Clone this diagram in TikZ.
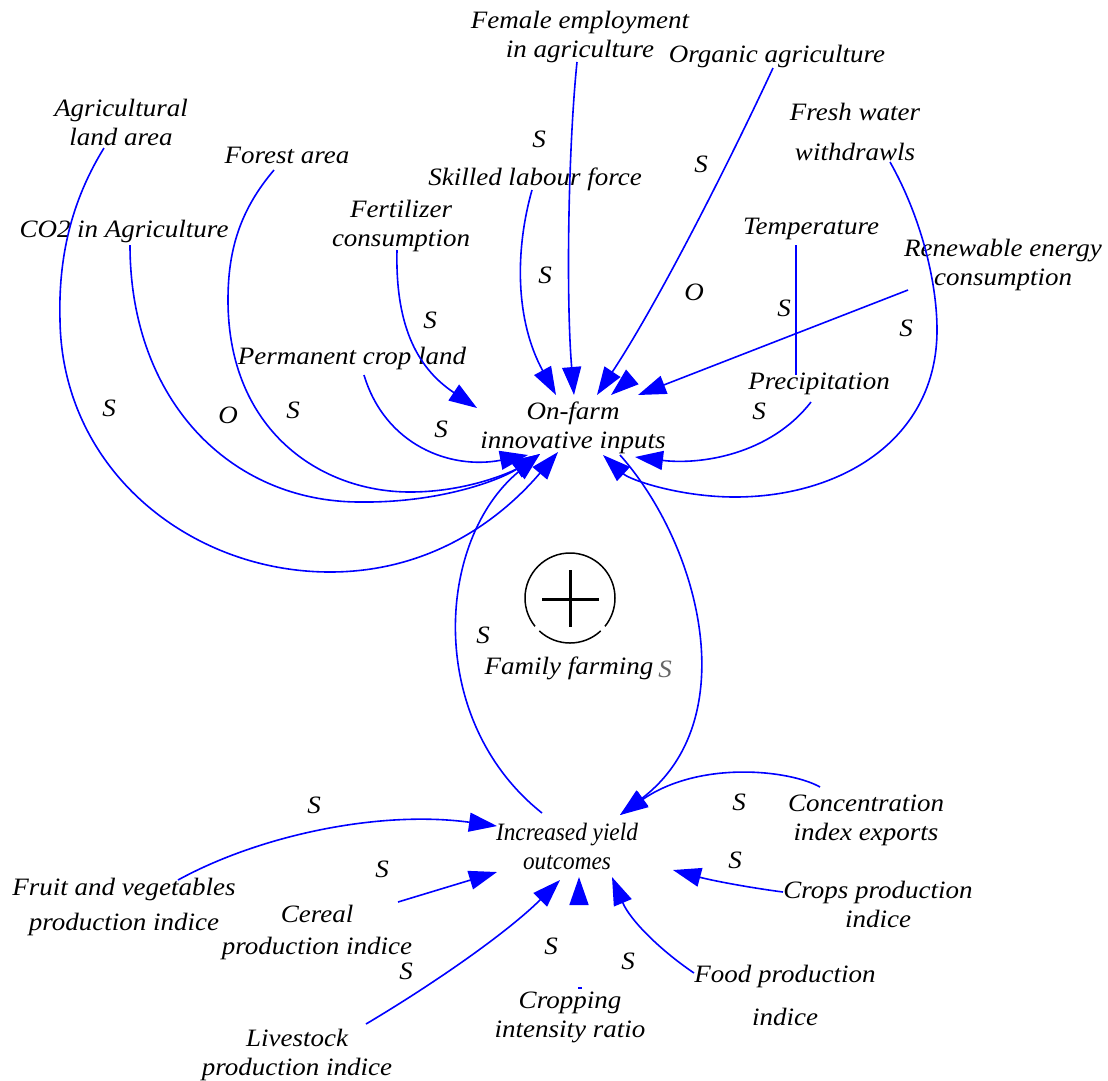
\documentclass[tikz,border=0pt]{standalone}
\usepackage{fontspec}
\setmainfont{Liberation Serif}[FakeStretch=1.08]
\newfontfamily\narrowserif{Liberation Serif}[FakeStretch=0.93]
\usetikzlibrary{arrows.meta}
\begin{document}
\begin{tikzpicture}[x=1pt,y=-1pt,
  lab/.style={font=\fontsize{25}{29}\selectfont\itshape, align=center, inner sep=0pt, text=black},
  sgn/.style={font=\fontsize{25}{29}\selectfont\itshape, inner sep=0pt, text=black},
  link/.style={draw=blue, line width=1.6pt, -{Triangle[length=28pt,width=19pt]}},
  plainlink/.style={draw=blue, line width=1.6pt},
]
\useasboundingbox (0,0) rectangle (1108,1080);

% ---------- variable nodes ----------
\node[lab] (fem) at (580,37) {Female employment\\in agriculture};
\node[lab] (org) at (777,56) {Organic agriculture};
\node[lab] (agri) at (121,122) {Agricultural\\land area};
\node[lab] (forest) at (287,155) {Forest area};
\node[lab] (fresh) at (855,132) {Fresh water\\[11pt]withdrawls};
\node[lab] (skill) at (535,179) {Skilled labour force};
\node[lab] (co2) at (124,231) {CO2 in Agriculture};
\node[lab] (fert) at (401,226) {Fertilizer\\consumption};
\node[lab] (temp) at (811,229) {Temperature};
\node[lab] (renew) at (1003,265) {Renewable energy\\consumption};
\node[lab] (perm) at (352,358) {Permanent crop land};
\node[lab] (precip) at (819,384) {Precipitation};
\node[lab] (onfarm) at (573,428) {On-farm\\innovative inputs};
\node[lab] (fam) at (569,668) {Family farming};
\node[lab, font=\narrowserif\fontsize{25}{29}\selectfont\itshape] (incr) at (567,846) {Increased yield\\outcomes};
\node[lab] (conc) at (866,820) {Concentration\\index exports};
\node[lab] (fruit) at (124,907) {Fruit and vegetables\\[6pt]production indice};
\node[lab] (cereal) at (317,932) {Cereal\\[3pt]production indice};
\node[lab] (crops) at (878,904) {Crops production\\indice};
\node[lab] (food) at (785,995) {Food production\\[14pt]indice};
\node[lab] (cint) at (570,1017) {Cropping\\intensity ratio};
\node[lab] (live) at (297,1055) {Livestock\\production indice};

% ---------- polarity labels ----------
\node[sgn] (p1) at (539,139) {S};
\node[sgn] (p2) at (701,164) {S};
\node[sgn] (p3) at (545,275) {S};
\node[sgn] (p4) at (694,292) {O};
\node[sgn] (p5) at (784,308) {S};
\node[sgn] (p6) at (430,320) {S};
\node[sgn] (p7) at (906,328) {S};
\node[sgn] (p8) at (109,408) {S};
\node[sgn] (p9) at (228,415) {O};
\node[sgn] (p10) at (293,410) {S};
\node[sgn] (p11) at (441,429) {S};
\node[sgn] (p12) at (759,411) {S};
\node[sgn] (p13) at (483,635) {S};
\node[sgn, text=black!60] (p14) at (665,669) {S};
\node[sgn] (p15) at (314,805) {S};
\node[sgn] (p16) at (739,802) {S};
\node[sgn] (p17) at (382,869) {S};
\node[sgn] (p18) at (735,860) {S};
\node[sgn] (p19) at (406,971) {S};
\node[sgn] (p20) at (551,946) {S};
\node[sgn] (p21) at (628,961) {S};

% ---------- loop symbol ----------
\node[circle, minimum size=90pt, inner sep=0pt] (loopsym) at (570,598) {};
\draw[line width=1.5pt] ([shift={(141:45)}]loopsym.center) arc[start angle=141, end angle=399, radius=45];
\draw[line width=1.5pt] ([shift={(47:45)}]loopsym.center) arc[start angle=47, end angle=133, radius=45];
\draw[line width=3pt] ([shift={(0,-28)}]loopsym.center) -- ([shift={(0,29)}]loopsym.center);
\draw[line width=3pt] ([shift={(-28,1)}]loopsym.center) -- ([shift={(29,1)}]loopsym.center);

% ---------- connector ends ----------
\coordinate (agri-o) at ([shift={(-17,26)}]agri.center);
\coordinate (co2-o) at ([shift={(6,14)}]co2.center);
\coordinate (forest-o) at ([shift={(-13,15)}]forest.center);
\coordinate (fert-o) at ([shift={(-4,24)}]fert.center);
\coordinate (perm-o) at ([shift={(12,17)}]perm.center);
\coordinate (skill-o) at ([shift={(-3,11)}]skill.center);
\coordinate (fem-o) at ([shift={(-3,25)}]fem.center);
\coordinate (org-o) at ([shift={(-4,12)}]org.center);
\coordinate (fresh-o) at ([shift={(35,30)}]fresh.center);
\coordinate (temp-o) at ([shift={(-15,16)}]temp.center);
\coordinate (precip-i) at ([shift={(-23,-9)}]precip.center);
\coordinate (precip-o) at ([shift={(-8,18)}]precip.center);
\coordinate (renew-o) at ([shift={(-95,25)}]renew.center);

\coordinate (on-fert) at ([shift={(-96,-20)}]onfarm.center);
\coordinate (on-skill) at ([shift={(-17,-33)}]onfarm.center);
\coordinate (on-fem) at ([shift={(1,-33)}]onfarm.center);
\coordinate (on-org) at ([shift={(24,-33)}]onfarm.center);
\coordinate (on-temp) at ([shift={(38,-33)}]onfarm.center);
\coordinate (on-temp-b) at ([shift={(58,-50)}]onfarm.center);
\coordinate (on-ren) at ([shift={(65,-33)}]onfarm.center);
\coordinate (on-perm) at ([shift={(-45,27)}]onfarm.center);
\coordinate (on-left) at ([shift={(-33,26)}]onfarm.center);
\coordinate (on-agri) at ([shift={(-15,24)}]onfarm.center);
\coordinate (on-fresh) at ([shift={(30,27)}]onfarm.center);
\coordinate (on-prec) at ([shift={(62,29)}]onfarm.center);
\coordinate (on-out) at ([shift={(47,27)}]onfarm.center);

\coordinate (in-out) at ([shift={(-25,-33)}]incr.center);
\coordinate (in-loop) at ([shift={(53,-31)}]incr.center);
\coordinate (in-fruit) at ([shift={(-70,-20)}]incr.center);
\coordinate (in-cer) at ([shift={(-70,26)}]incr.center);
\coordinate (in-live) at ([shift={(-7,34)}]incr.center);
\coordinate (in-cint) at ([shift={(12,31)}]incr.center);
\coordinate (in-food) at ([shift={(45,31)}]incr.center);
\coordinate (in-crops) at ([shift={(106,24)}]incr.center);

\coordinate (conc-o) at ([shift={(-46,-33)}]conc.center);
\coordinate (fruit-o) at ([shift={(54,-27)}]fruit.center);
\coordinate (cer-o) at ([shift={(81,-30)}]cereal.center);
\coordinate (live-o) at ([shift={(69,-31)}]live.center);
\coordinate (cint-o) at ([shift={(10,-29)}]cint.center);
\coordinate (cint-b) at ([shift={(9,-114)}]cint.center);
\coordinate (food-o) at ([shift={(-91,-22)}]food.center);
\coordinate (crops-o) at ([shift={(-95,-12)}]crops.center);

% ---------- connectors into On-farm innovative inputs ----------
\draw[link] (agri-o) .. controls (75,195) and (58,250) .. (60,320)
  .. controls (62,470) and (190,572) .. (330,572)
  .. controls (430,572) and (500,520) .. (on-agri);
\draw[link] (co2-o) .. controls (130,400) and (230,502) .. (360,502)
  .. controls (440,503) and (500,480) .. (on-left);
\draw[link] (forest-o) .. controls (240,210) and (228,250) .. (228,300)
  .. controls (228,430) and (320,492) .. (410,492)
  .. controls (470,492) and (515,470) .. (on-left);
\draw[link] (perm-o) .. controls (385,445) and (450,470) .. (on-perm);
\draw[link] (fert-o) .. controls (395,330) and (420,370) .. (on-fert);
\draw[link] (skill-o) .. controls (515,250) and (515,320) .. (on-skill);
\draw[link] (fem-o) .. controls (568,150) and (566,300) .. (on-fem);
\draw[link] (org-o) .. controls (735,150) and (660,300) .. (on-org);
\draw[link] (on-temp-b) -- (on-temp);
\draw[link] (renew-o) -- (on-ren);
\draw[plainlink] (temp-o) -- (precip-i);
\draw[link] (fresh-o) .. controls (920,215) and (937,280) .. (937,330)
  .. controls (937,440) and (840,497) .. (735,497)
  .. controls (680,497) and (630,480) .. (on-fresh);
\draw[link] (precip-o) .. controls (770,455) and (700,465) .. (on-prec);

% ---------- feedback loop ----------
\draw[link] (in-out) .. controls (425,720) and (436,540) .. (on-left);
\draw[link] (on-out) .. controls (700,545) and (745,720) .. (in-loop);

% ---------- connectors into Increased yield outcomes ----------
\draw[link] (conc-o) .. controls (790,770) and (700,760) .. (in-loop);
\draw[link] (fruit-o) .. controls (260,835) and (380,810) .. (in-fruit);
\draw[link] (cer-o) -- (in-cer);
\draw[link] (live-o) .. controls (440,980) and (510,930) .. (in-live);
\draw[link] (cint-b) -- (in-cint);
\draw[plainlink, line width=1.2pt] ([xshift=-2pt]cint-o) -- ([xshift=2pt]cint-o);
\draw[link] (food-o) .. controls (660,950) and (630,920) .. (in-food);
\draw[link] (crops-o) .. controls (745,887) and (710,880) .. (in-crops);
\end{tikzpicture}
\end{document}
